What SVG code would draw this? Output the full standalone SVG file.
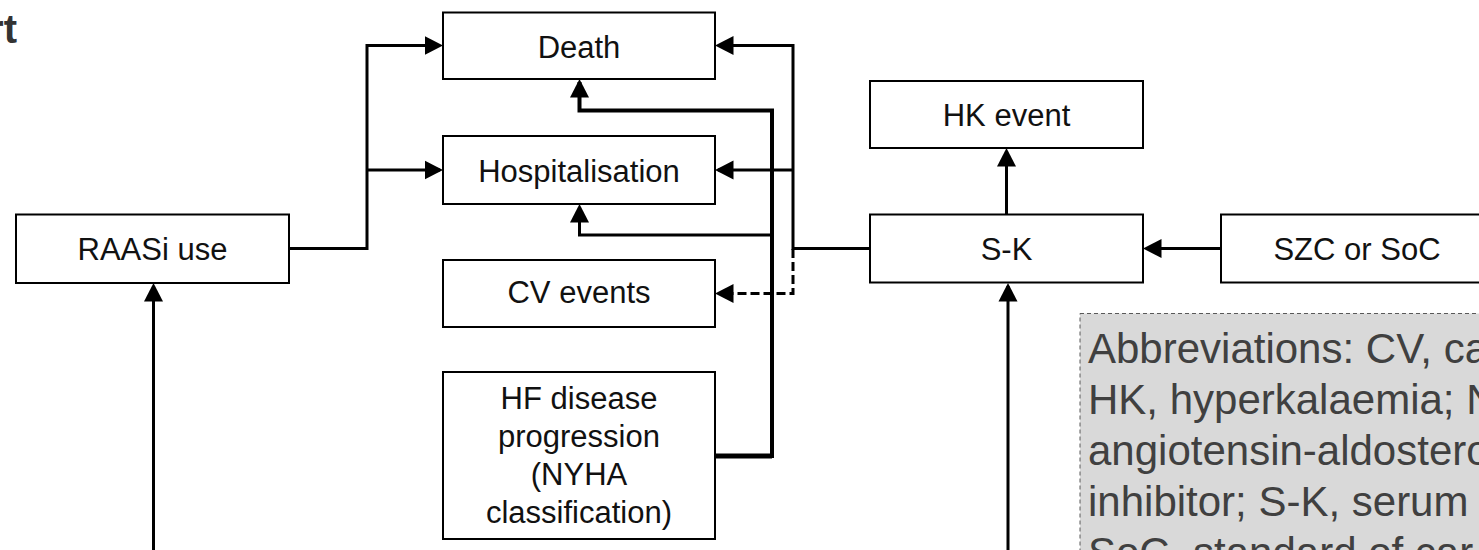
<svg xmlns="http://www.w3.org/2000/svg" width="1479" height="550" viewBox="0 0 1479 550">
<style>
.box{fill:#ffffff;stroke:#000000;stroke-width:2}
.lbl{font-family:"Liberation Sans",Arial,sans-serif;font-size:31px;fill:#111111;text-anchor:middle}
.ln{fill:none;stroke:#000000;stroke-width:3}
.thick{stroke-width:4}
.dash{stroke-dasharray:9 4}
.abbr{font-family:"Liberation Sans",Arial,sans-serif;font-size:42px;fill:#404040}
.title{font-family:"Liberation Sans",Arial,sans-serif;font-size:40px;font-weight:bold;fill:#333333;text-anchor:end}
</style>
<defs>
<marker id="ah" markerUnits="userSpaceOnUse" markerWidth="19" markerHeight="20" viewBox="0 0 19 20" refX="15.5" refY="10" orient="auto">
<path d="M0,0.5 L18.5,10 L0,19.5 z" fill="#000000"/>
</marker>
</defs>
<rect x="0" y="0" width="1479" height="550" fill="#ffffff"/>
<text class="title" x="17" y="43">rt</text>

<g id="connectors">
<path class="ln" d="M289,248.5 H367 V45.5 H440" marker-end="url(#ah)"/>
<path class="ln" d="M367,170 H440" marker-end="url(#ah)"/>
<path class="ln" d="M870,248.5 H793 V45.5 H718" marker-end="url(#ah)"/>
<path class="ln" d="M793,170 H718" marker-end="url(#ah)"/>
<path class="ln dash" d="M793,249 V293.5 H718" marker-end="url(#ah)"/>
<path class="ln" d="M715,456 H772" style="stroke-width:5"/>
<path class="ln thick" d="M772,458 V110.5 H579.5 V82" marker-end="url(#ah)"/>
<path class="ln" d="M772,235 H579.5 V207" marker-end="url(#ah)"/>
<path class="ln" d="M1006.5,214.5 V151" marker-end="url(#ah)"/>
<path class="ln" d="M1221,248.5 H1146" marker-end="url(#ah)"/>
<path class="ln" d="M1008,552 V286" marker-end="url(#ah)"/>
<path class="ln" d="M153.5,552 V286" marker-end="url(#ah)"/>
</g>

<g id="node-raasi">
<rect class="box" x="16" y="214.5" width="273" height="68.5"/>
<text class="lbl" x="152.5" y="260">RAASi use</text>
</g>
<g id="node-death">
<rect class="box" x="443" y="12.5" width="272" height="66.5"/>
<text class="lbl" x="579" y="57.5">Death</text>
</g>
<g id="node-hosp">
<rect class="box" x="443" y="136" width="272" height="68"/>
<text class="lbl" x="579" y="181.5">Hospitalisation</text>
</g>
<g id="node-cv">
<rect class="box" x="443" y="260" width="272" height="67"/>
<text class="lbl" x="579" y="303">CV events</text>
</g>
<g id="node-hf">
<rect class="box" x="443" y="372" width="272" height="167"/>
<text class="lbl" x="579" y="409">HF disease</text>
<text class="lbl" x="579" y="447">progression</text>
<text class="lbl" x="579" y="485">(NYHA</text>
<text class="lbl" x="579" y="522.5">classification)</text>
</g>
<g id="node-hk">
<rect class="box" x="870" y="81" width="273" height="67"/>
<text class="lbl" x="1006.5" y="125.5">HK event</text>
</g>
<g id="node-sk">
<rect class="box" x="870" y="214.5" width="273" height="68"/>
<text class="lbl" x="1006.5" y="260">S-K</text>
</g>
<g id="node-szc">
<rect class="box" x="1221" y="214.5" width="272" height="68"/>
<text class="lbl" x="1357" y="260">SZC or SoC</text>
</g>
<g id="abbreviations">
<rect x="1080" y="313.5" width="430" height="260" fill="#d9d9d9" stroke="#595959" stroke-width="1" stroke-dasharray="4 3"/>
<text class="abbr" x="1088" y="363">Abbreviations: CV, ca</text>
<text class="abbr" x="1088" y="414">HK, hyperkalaemia; N</text>
<text class="abbr" x="1088" y="465">angiotensin-aldostero</text>
<text class="abbr" x="1088" y="516">inhibitor; S-K, serum</text>
<text class="abbr" x="1088" y="567">SoC, standard of car</text>
</g>
</svg>
